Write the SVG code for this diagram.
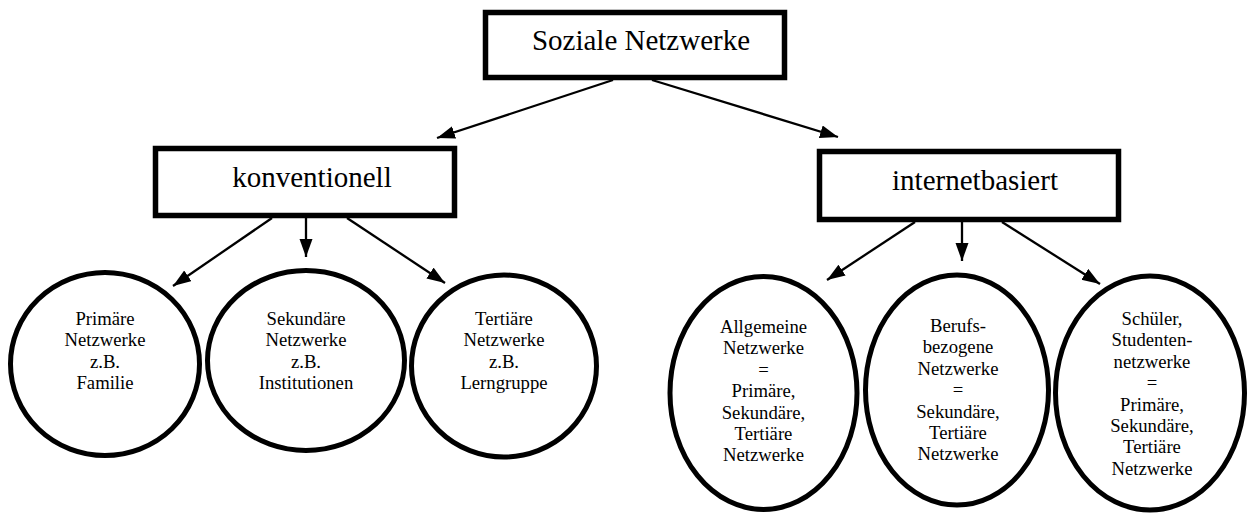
<svg xmlns="http://www.w3.org/2000/svg" width="1248" height="513" viewBox="0 0 1248 513">
<style>
.box{fill:#fff;stroke:#000;stroke-width:5.5}
.oval{fill:#fff;stroke:#000;stroke-width:5}
.t{font-family:"Liberation Serif","Times New Roman",serif;fill:#000;text-anchor:middle}
.big{font-size:29px}
.sm{font-size:18.7px}
.c{stroke:#000;stroke-width:2.3;fill:none}
</style>
<defs>
<marker id="ah" markerUnits="userSpaceOnUse" markerWidth="20" markerHeight="14" refX="18" refY="6.5" orient="auto">
<path d="M0,0 L18,6.5 L0,13 z" fill="#000"/>
</marker>
</defs>
<rect width="1248" height="513" fill="#fff"/>
<g id="connectors">
<line class="c" x1="613" y1="80" x2="437" y2="138" marker-end="url(#ah)"/>
<line class="c" x1="652" y1="80" x2="838" y2="137" marker-end="url(#ah)"/>
<line class="c" x1="272" y1="218" x2="173" y2="286" marker-end="url(#ah)"/>
<line class="c" x1="306" y1="218" x2="306" y2="257" marker-end="url(#ah)"/>
<line class="c" x1="347" y1="218" x2="445" y2="283" marker-end="url(#ah)"/>
<line class="c" x1="915" y1="222" x2="827" y2="280" marker-end="url(#ah)"/>
<line class="c" x1="962" y1="222" x2="962" y2="261" marker-end="url(#ah)"/>
<line class="c" x1="1002" y1="222" x2="1100" y2="284" marker-end="url(#ah)"/>
</g>
<g id="root">
<rect class="box" x="485.5" y="12.5" width="299" height="65"/>
<text class="t big" x="641" y="50">Soziale Netzwerke</text>
</g>
<g id="konventionell">
<rect class="box" x="155.5" y="148.5" width="299" height="67"/>
<text class="t big" x="312" y="187">konventionell</text>
</g>
<g id="internetbasiert">
<rect class="box" x="819.5" y="151.5" width="299" height="68"/>
<text class="t big" x="975" y="190">internetbasiert</text>
</g>
<g id="primaer">
<ellipse class="oval" cx="105" cy="364" rx="94.5" ry="91.5"/>
<text class="t sm" x="105" y="325">Primäre<tspan x="105" dy="21.3">Netzwerke</tspan><tspan x="105" dy="21.3">z.B.</tspan><tspan x="105" dy="21.3">Familie</tspan></text>
</g>
<g id="sekundaer">
<ellipse class="oval" cx="306" cy="360.5" rx="98.5" ry="90"/>
<text class="t sm" x="306" y="325">Sekundäre<tspan x="306" dy="21.3">Netzwerke</tspan><tspan x="306" dy="21.3">z.B.</tspan><tspan x="306" dy="21.3">Institutionen</tspan></text>
</g>
<g id="tertiaer">
<ellipse class="oval" cx="504" cy="366" rx="92.5" ry="91"/>
<text class="t sm" x="504" y="325">Tertiäre<tspan x="504" dy="21.3">Netzwerke</tspan><tspan x="504" dy="21.3">z.B.</tspan><tspan x="504" dy="21.3">Lerngruppe</tspan></text>
</g>
<g id="allgemein">
<ellipse class="oval" cx="763.5" cy="393" rx="93.5" ry="116.5"/>
<text class="t sm" x="763.5" y="333">Allgemeine<tspan x="763.5" dy="21.4">Netzwerke</tspan><tspan x="763.5" dy="21.4">=</tspan><tspan x="763.5" dy="21.4">Primäre,</tspan><tspan x="763.5" dy="21.4">Sekundäre,</tspan><tspan x="763.5" dy="21.4">Tertiäre</tspan><tspan x="763.5" dy="21.4">Netzwerke</tspan></text>
</g>
<g id="berufsbezogen">
<ellipse class="oval" cx="957" cy="390" rx="91.5" ry="115"/>
<text class="t sm" x="958" y="332">Berufs-<tspan x="958" dy="21.4">bezogene</tspan><tspan x="958" dy="21.4">Netzwerke</tspan><tspan x="958" dy="21.4">=</tspan><tspan x="958" dy="21.4">Sekundäre,</tspan><tspan x="958" dy="21.4">Tertiäre</tspan><tspan x="958" dy="21.4">Netzwerke</tspan></text>
</g>
<g id="studenten">
<ellipse class="oval" cx="1150" cy="393" rx="94.5" ry="117"/>
<text class="t sm" x="1152" y="325">Schüler,<tspan x="1152" dy="21.4">Studenten-</tspan><tspan x="1152" dy="21.4">netzwerke</tspan><tspan x="1152" dy="21.4">=</tspan><tspan x="1152" dy="21.4">Primäre,</tspan><tspan x="1152" dy="21.4">Sekundäre,</tspan><tspan x="1152" dy="21.4">Tertiäre</tspan><tspan x="1152" dy="21.4">Netzwerke</tspan></text>
</g>
</svg>
